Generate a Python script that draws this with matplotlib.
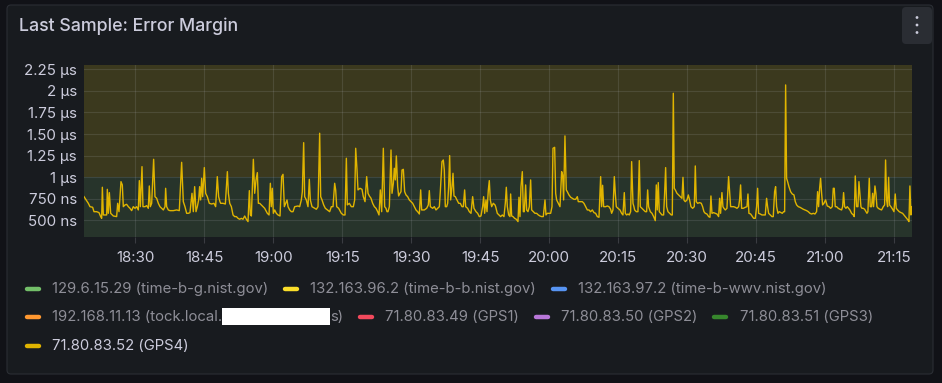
import matplotlib
matplotlib.use("Agg")
import matplotlib.pyplot as plt
from matplotlib.patches import FancyBboxPatch, Rectangle, Circle
from matplotlib.lines import Line2D
from matplotlib.ticker import FixedLocator, FuncFormatter

plt.rcParams['font.family'] = ['Inter', 'DejaVu Sans']

# ---------------- data ----------------
# minutes after 18:00
minutes = [
    18.84, 19.78, 20.14, 20.72, 21.01, 21.59, 22.10, 22.46, 22.68, 22.83,
    23.04, 23.40, 23.77, 23.91, 24.13, 24.35, 24.64, 25.22, 25.94, 26.16,
    26.45, 26.88, 27.17, 27.39, 27.75, 28.11, 28.48, 28.84, 29.20, 29.56,
    29.93, 30.29, 30.65, 30.87, 31.09, 31.45, 31.66, 32.10, 32.46, 32.82,
    33.04, 33.26, 33.55, 33.98, 34.27, 34.64, 35.00, 35.36, 35.72, 36.09,
    36.45, 36.59, 36.81, 37.17, 37.53, 38.26, 38.98, 39.56, 40.07, 40.43,
    40.79, 41.16, 41.52, 41.88, 42.32, 42.61, 42.90, 43.19, 43.48, 43.77,
    43.98, 44.20, 44.42, 44.64, 45.00, 45.29, 45.65, 46.08, 46.59, 47.10,
    47.46, 47.82, 48.11, 48.40,
    48.56, 49.07, 49.57, 50.01, 50.23, 50.52, 50.88, 51.24, 51.60, 51.97,
    52.33, 52.69, 53.05, 53.41, 53.78, 54.14, 54.50, 54.79, 55.01, 55.23,
    55.66, 55.95, 56.24, 56.53, 56.75, 57.04, 57.40, 58.12, 58.70, 59.07,
    59.36, 59.57, 59.79, 60.01, 60.30, 60.66, 61.02, 61.46, 61.82, 62.11,
    62.40, 62.69, 62.98, 63.20, 63.56, 63.92, 64.28, 64.65, 65.37, 65.73,
    66.09, 66.31, 66.60, 66.82, 67.18, 67.54, 67.83, 68.05, 68.41, 68.99,
    69.36, 69.72, 70.08, 70.30, 70.59, 70.95, 71.31, 71.75, 72.25, 72.62,
    72.98, 73.34, 73.56, 73.78, 74.21, 74.79, 75.22, 75.59, 75.88, 76.09,
    76.53, 76.96, 77.40, 77.69, 77.91,
    78.20, 78.41, 78.85, 79.28, 79.57, 79.94, 80.30, 80.59, 80.88, 81.24,
    81.60, 81.97, 82.33, 82.69, 82.98, 83.27, 83.56, 83.92, 84.21, 84.50,
    84.72, 84.94, 85.23, 85.59, 85.81, 86.10, 86.31, 86.53, 86.75, 87.04,
    87.25, 87.54, 87.76, 87.98, 88.27, 88.56, 88.85, 89.21, 89.57, 89.94,
    90.30, 90.66, 91.02, 91.38, 91.75, 92.04, 92.25, 92.83, 93.34, 93.70,
    93.92, 94.14, 94.65, 95.01, 95.37, 95.73, 96.10, 96.31, 96.67, 96.96,
    97.18, 97.40, 97.69, 97.91, 98.12, 98.34, 98.56, 98.85, 99.07, 99.28,
    99.57, 99.94, 100.30, 100.66, 101.02, 101.31, 101.60, 101.82, 102.25, 102.62,
    102.98, 103.34, 103.63, 104.07, 104.43, 104.79, 105.15, 105.51, 105.73, 105.95,
    106.24, 106.46, 106.75, 106.96, 107.18, 107.47, 107.83, 108.20,
    108.34, 108.70, 109.07, 109.43, 109.79, 110.15, 110.44, 110.66, 110.88, 111.17,
    111.46, 111.60, 111.82, 112.11, 112.47, 112.83, 113.20, 113.41, 113.63, 113.85,
    114.14, 114.36, 114.57, 114.86, 115.08, 115.37, 115.66, 115.95, 116.17, 116.53,
    116.89, 117.25, 117.62, 117.98, 118.34, 118.70, 119.07, 119.28, 119.57, 119.94,
    120.30, 120.59, 120.81, 121.17, 121.39, 121.60, 121.96, 122.33, 122.69, 122.91,
    123.12, 123.41, 123.70, 123.92, 124.28, 124.65, 125.01, 125.37, 125.73, 126.10,
    126.31, 126.67, 127.18, 127.54, 127.91, 128.27, 128.63, 128.99, 129.36, 129.72,
    130.08, 130.44, 130.81, 131.17, 131.38, 131.60, 131.82, 132.25, 132.62, 132.98,
    133.34, 133.56, 133.85, 134.14, 134.36, 134.57, 134.94, 135.37, 135.73, 136.02,
    136.31, 136.53, 136.82, 137.11, 137.40, 137.69, 137.91, 138.20, 138.41,
    138.56, 138.92, 139.28, 139.57, 139.79, 140.15, 140.52, 140.88, 141.17, 141.39,
    141.60, 141.97, 142.33, 142.69, 143.05, 143.27, 143.49, 143.70, 143.92, 144.21,
    144.50, 144.86, 145.08, 145.30, 145.52, 145.81, 146.17, 146.53, 146.75, 146.97,
    147.18, 147.40, 147.76, 148.12, 148.49, 148.85, 149.07, 149.28, 149.57, 149.94,
    150.23, 150.51, 150.81, 151.17, 151.53, 151.75, 151.96, 152.25, 152.69, 153.05,
    153.34, 153.63, 153.92, 154.28, 154.65, 154.94, 155.15, 155.37, 155.73, 156.10,
    156.46, 156.82, 157.04, 157.25, 157.54, 157.76, 157.98, 158.27, 158.63, 158.99,
    159.21, 159.43, 159.72, 160.08, 160.44, 160.81, 161.17, 161.38, 161.60, 161.82,
    162.18, 162.62, 162.98, 163.20, 163.41, 163.78, 164.07, 164.43, 164.79, 165.08,
    165.30, 165.51, 165.88, 166.24, 166.60, 166.96, 167.25, 167.47, 167.69, 168.05,
    168.41,
    168.70, 168.99, 169.21, 169.43, 169.72, 170.01, 170.37, 170.66, 170.95, 171.17,
    171.39, 171.60, 171.82, 172.11, 172.47, 172.83, 173.20, 173.49, 173.78, 174.14,
    174.50, 174.86, 175.23, 175.59, 175.95, 176.31, 176.68, 177.04, 177.40, 177.76,
    178.12, 178.34, 178.56, 178.78, 178.99, 179.21, 179.43, 179.72, 180.08, 180.44,
    180.81, 181.17, 181.53, 181.75, 181.96, 182.18, 182.47, 182.83, 183.20, 183.56,
    183.78, 183.99, 184.21, 184.50, 184.79, 185.08, 185.37, 185.73, 186.10, 186.31,
    186.53, 186.82, 187.11, 187.33, 187.54, 187.76, 187.98, 188.27, 188.56, 188.85,
    189.07, 189.28, 189.57, 189.79, 190.08, 190.30, 190.51, 190.81, 191.02, 191.24,
    191.53, 191.89, 192.25, 192.62, 192.91, 193.12, 193.34, 193.56, 193.78, 193.99,
    194.28, 194.65, 194.94, 195.22, 195.44, 195.73, 196.09, 196.46, 196.82, 197.11,
    197.40, 197.69, 197.98, 198.20, 198.41, 198.63, 198.77,
]

# error margin of 71.80.83.52 (GPS4), nanoseconds
gps4_error_ns = [
    774, 697, 658, 651, 600, 600, 589, 543, 523, 883,
    562, 562, 562, 859, 581, 821, 581, 550, 543, 697,
    600, 948, 910, 658, 678, 685, 658, 639, 612, 658,
    639, 658, 620, 960, 658, 1122, 658, 658, 670, 639,
    898, 658, 697, 1207, 774, 755, 697, 658, 639, 620,
    658, 871, 658, 620, 612, 612, 620, 612, 1172, 716,
    658, 581, 581, 589, 813, 600, 890, 600, 658, 736,
    890, 736, 987, 774, 1111, 813, 774, 697, 689, 697,
    658, 1006, 774, 716,
    697, 697, 689, 1064, 813, 697, 658, 562, 543, 543,
    523, 512, 523, 512, 550, 512, 485, 844, 562, 550,
    1207, 813, 968, 1053, 697, 697, 678, 639, 581, 562,
    929, 658, 871, 581, 620, 581, 562, 550, 1006, 1033,
    658, 697, 736, 658, 620, 600, 600, 658, 666, 658,
    736, 832, 1400, 774, 736, 658, 975, 736, 658, 639,
    628, 658, 1509, 774, 736, 678, 639, 620, 600, 658,
    658, 929, 852, 658, 639, 581, 562, 562, 1219, 678,
    697, 658, 658, 736, 1335,
    1083, 852, 871, 859, 774, 716, 1006, 813, 782, 755,
    697, 658, 639, 600, 562, 852, 600, 1335, 658, 639,
    600, 600, 658, 1315, 813, 929, 1103, 968, 1246, 890,
    782, 813, 832, 1083, 1091, 832, 794, 774, 736, 716,
    697, 658, 620, 600, 573, 852, 620, 620, 639, 678,
    844, 658, 639, 658, 620, 639, 658, 832, 1180, 1199,
    1083, 658, 658, 697, 890, 1250, 736, 890, 1045, 782,
    774, 736, 697, 697, 658, 658, 852, 658, 639, 600,
    581, 774, 639, 600, 581, 543, 550, 658, 774, 581,
    736, 600, 852, 960, 736, 658, 697, 678,
    658, 581, 562, 543, 562, 543, 697, 883, 658, 562,
    543, 805, 550, 543, 523, 512, 485, 767, 543, 890,
    1064, 600, 600, 910, 620, 600, 658, 968, 620, 600,
    581, 581, 562, 550, 543, 543, 736, 562, 581, 581,
    581, 658, 1335, 1346, 813, 736, 697, 658, 1064, 1026,
    736, 1478, 852, 832, 794, 767, 755, 743, 743, 774,
    716, 716, 716, 697, 658, 620, 620, 600, 620, 589,
    581, 543, 535, 1006, 658, 906, 658, 658, 666, 658,
    628, 581, 620, 1006, 813, 658, 639, 620, 581, 562,
    821, 581, 562, 573, 562, 600, 1180, 697, 658,
    620, 600, 600, 1192, 658, 639, 620, 600, 600, 852,
    658, 600, 581, 543, 496, 910, 620, 937, 600, 581,
    562, 562, 813, 1111, 658, 600, 581, 562, 562, 1972,
    871, 852, 813, 794, 774, 755, 998, 736, 716, 736,
    794, 736, 658, 639, 658, 1130, 716, 697, 705, 697,
    658, 600, 581, 573, 543, 535, 782, 581, 589, 581,
    573, 543, 755, 581, 821, 658, 639, 620, 639, 1006,
    832, 658, 658, 658, 651, 639, 658, 736, 910, 639,
    639, 651, 658, 805, 581, 573, 550, 523, 523, 658,
    871, 581, 573, 562, 562, 562, 755, 658, 581, 562,
    543,
    543, 832, 890, 658, 581, 600, 589, 581, 600, 600,
    2069, 987, 948, 890, 832, 805, 794, 716, 678, 658,
    651, 639, 628, 620, 612, 600, 581, 573, 581, 573,
    600, 832, 658, 871, 987, 813, 678, 697, 736, 666,
    658, 639, 658, 871, 871, 658, 658, 639, 628, 620,
    658, 821, 658, 639, 658, 639, 620, 581, 562, 543,
    1014, 658, 658, 948, 813, 658, 639, 639, 628, 600,
    581, 600, 987, 658, 658, 813, 658, 898, 813, 658,
    639, 628, 620, 658, 678, 1199, 736, 658, 998, 678,
    658, 628, 600, 805, 639, 620, 600, 589, 581, 562,
    543, 523, 504, 485, 898, 562, 658,
]

threshold_ns = 1000
y_ticks_ns = [500, 750, 1000, 1250, 1500, 1750, 2000, 2250]
x_tick_minutes = [30, 45, 60, 75, 90, 105, 120, 135, 150, 165, 180, 195]
x_range_minutes = (18.84, 198.8)
y_range_ns = (303, 2300)

legend_labels = [
    "129.6.15.29 (time-b-g.nist.gov)",
    "132.163.96.2 (time-b-b.nist.gov)",
    "132.163.97.2 (time-b-wwv.nist.gov)",
    "192.168.11.13 (tock.local.|s)",
    "71.80.83.49 (GPS1)",
    "71.80.83.50 (GPS2)",
    "71.80.83.51 (GPS3)",
    "71.80.83.52 (GPS4)",
]
legend_colors = ["#73bf69", "#fade2a", "#5794f2", "#ff9830",
                 "#f2495c", "#b877d9", "#37872d", "#e0b400"]
title = "Last Sample: Error Margin"

# ---------------- figure ----------------
W, H = 942, 383
fig = plt.figure(figsize=(W / 100, H / 100), dpi=100, facecolor="#111217")

bg = fig.add_axes([0, 0, 1, 1])
bg.set_xlim(0, W)
bg.set_ylim(H, 0)
bg.axis("off")
bg.add_patch(FancyBboxPatch((7, 5), 926, 369,
                            boxstyle="round,pad=0,rounding_size=4",
                            fc="#181b1f", ec="#2b2e34", lw=0.8))
bg.add_patch(FancyBboxPatch((902, 7), 30, 37,
                            boxstyle="round,pad=0,rounding_size=4",
                            fc="#2a2d33", ec="none"))
for dy in (17.5, 25, 32.5):
    bg.add_patch(Circle((917, dy), 1.4, fc="#ccccdc", ec="none"))
bg.text(19, 26, title, color="#ccccdc", fontsize=12.8, fontweight="medium",
        va="center", ha="left")

# main plot
ax = fig.add_axes([84 / W, 1 - 237.3 / H, 827.7 / W, 172.3 / H])
ax.set_facecolor("#181b1f")
ax.set_xlim(*x_range_minutes)
ax.set_ylim(*y_range_ns)
ax.axhspan(y_range_ns[0], threshold_ns, color="#27342b", lw=0, zorder=0)
ax.axhspan(threshold_ns, y_range_ns[1], color="#3b391e", lw=0, zorder=0)
for s in ax.spines.values():
    s.set_visible(False)
ax.xaxis.set_major_locator(FixedLocator(x_tick_minutes))
ax.yaxis.set_major_locator(FixedLocator(y_ticks_ns))


def fmt_time(m, _):
    m = int(round(m))
    return f"{18 + m // 60}:{m % 60:02d}"


def fmt_ns(v, _):
    if v < 1000:
        return f"{v:.0f} ns"
    s = f"{v / 1000:.2f}"
    if s.endswith(".00"):
        s = s[:-3]
    return f"{s} µs"


ax.xaxis.set_major_formatter(FuncFormatter(fmt_time))
ax.yaxis.set_major_formatter(FuncFormatter(fmt_ns))
ax.grid(True, color="#ccccdc", alpha=0.13, lw=0.8)
ax.set_axisbelow(True)
ax.tick_params(axis="x", colors="#3a3c42", length=4, width=0.8, pad=6,
               labelcolor="#ccccdc", labelsize=10.9)
ax.tick_params(axis="y", length=0, pad=5, labelcolor="#ccccdc", labelsize=10.9)

ax.plot(minutes, gps4_error_ns, color="#e0b400", lw=1.0, zorder=3)

# legend (flow layout)
fig.canvas.draw()
renderer = fig.canvas.get_renderer()
LEG_FS = 10.7
row_y = [288.5, 317, 345.5]
x, row = 24, 0
for i, (lab, col) in enumerate(zip(legend_labels, legend_colors)):
    active = i == len(legend_labels) - 1
    tcol = "#ccccdc" if active else "#8e8e97"
    parts = lab.split("|")
    widths = []
    for p in parts:
        t = bg.text(0, 0, p, fontsize=LEG_FS)
        widths.append(t.get_window_extent(renderer).width)
        t.remove()
    redact_w = 108 if len(parts) > 1 else 0
    total = 28 + sum(widths) + redact_w
    if x + total > 915:
        row += 1
        x = 24
    y = row_y[row]
    bg.add_line(Line2D([x + 2.5, x + 14.5], [y, y], color=col, lw=3.2,
                       solid_capstyle="round"))
    tx = x + 28
    for j, p in enumerate(parts):
        bg.text(tx, y, p, color=tcol, fontsize=LEG_FS, va="center", ha="left")
        tx += widths[j]
        if j < len(parts) - 1:
            bg.add_patch(Rectangle((tx, y - 9), redact_w, 17, fc="white", ec="none"))
            tx += redact_w
    x = tx + 14

fig.savefig("out.png", dpi=100, facecolor=fig.get_facecolor())
